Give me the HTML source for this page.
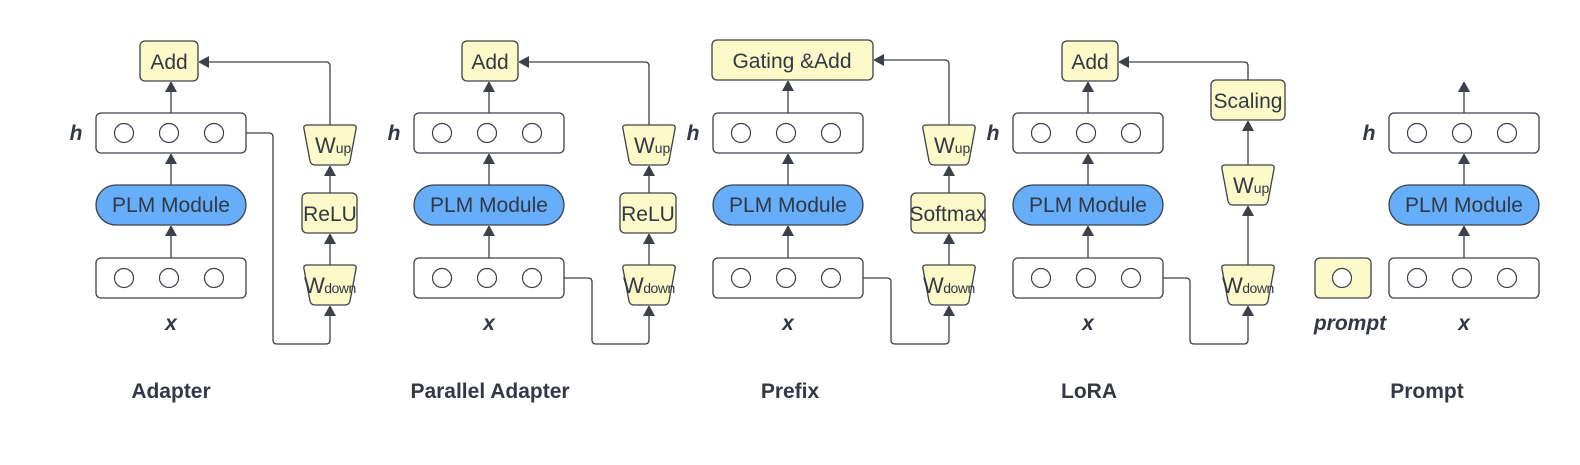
<!DOCTYPE html>
<html><head><meta charset="utf-8"><style>
html,body{margin:0;padding:0;background:#fff;}
svg{display:block;}
text{font-family:"Liberation Sans",Arial,sans-serif;fill:#333844;}
.b{fill:#fff;stroke:#3c4048;stroke-width:1.3;}
.y{fill:#fcfac8;stroke:#3c4048;stroke-width:1.3;}
.p{fill:#66aefa;stroke:#3c4048;stroke-width:1.3;}
.c{fill:#fff;stroke:#3c4048;stroke-width:1.2;}
.l{fill:none;stroke:#3c4048;stroke-width:1.3;}
.t{font-size:21px;text-anchor:middle;}
.ti{font-size:21px;font-weight:bold;text-anchor:middle;}
.it{font-size:21px;font-weight:bold;font-style:italic;text-anchor:middle;}
</style></head><body>
<svg width="1580" height="465" viewBox="0 0 1580 465" xmlns="http://www.w3.org/2000/svg">
<defs>
<marker id="a" markerWidth="10" markerHeight="12" refX="10" refY="6" orient="auto" markerUnits="userSpaceOnUse">
<path d="M0,0 L11,6 L0,12 z" fill="#3c4048"/></marker>
<g id="core">
<rect class="b" x="96" y="113" width="150" height="40" rx="5"/>
<circle class="c" cx="124" cy="133" r="9.5"/><circle class="c" cx="169" cy="133" r="9.5"/><circle class="c" cx="214" cy="133" r="9.5"/>
<rect class="p" x="96" y="185" width="150" height="40" rx="20"/>
<text class="t" x="171" y="212">PLM Module</text>
<rect class="b" x="96" y="258" width="150" height="40" rx="5"/>
<circle class="c" cx="124" cy="278" r="9.5"/><circle class="c" cx="169" cy="278" r="9.5"/><circle class="c" cx="214" cy="278" r="9.5"/>
<line class="l" x1="171" y1="258" x2="171" y2="226" marker-end="url(#a)"/>
<line class="l" x1="171" y1="185" x2="171" y2="154" marker-end="url(#a)"/>
<text class="it" x="76" y="140">h</text>
<text class="it" x="171" y="330">x</text>
</g>
<g id="wup">
<path class="y" d="M-23,0 L23,0 Q27,0 26,4 L20,36 Q19,40 15,40 L-15,40 Q-19,40 -20,36 L-26,4 Q-27,0 -23,0 Z"/>
<text x="-15" y="28" font-size="22px">W<tspan font-size="14px">up</tspan></text>
</g>
<g id="wdown">
<path class="y" d="M-23,0 L23,0 Q27,0 26,4 L20,36 Q19,40 15,40 L-15,40 Q-19,40 -20,36 L-26,4 Q-27,0 -23,0 Z"/>
<text x="-26" y="28" font-size="22px" letter-spacing="-0.5">W<tspan font-size="14px">down</tspan></text>
</g>
</defs>

<!-- Adapter -->
<use href="#core"/>
<rect class="y" x="140" y="41" width="58" height="40" rx="5"/>
<text class="t" x="169" y="69">Add</text>
<line class="l" x1="171" y1="113" x2="171" y2="82" marker-end="url(#a)"/>
<use href="#wup" x="330" y="125"/>
<rect class="y" x="302" y="193" width="55" height="40" rx="5"/>
<text class="t" x="330" y="221">ReLU</text>
<use href="#wdown" x="330" y="265"/>
<line class="l" x1="330" y1="265" x2="330" y2="234" marker-end="url(#a)"/>
<line class="l" x1="330" y1="193" x2="330" y2="166" marker-end="url(#a)"/>
<path class="l" d="M330,125 L330,66 Q330,62 326,62 L199,62" marker-end="url(#a)"/>
<path class="l" d="M246,133 L269,133 Q273,133 273,137 L273,340 Q273,344 277,344 L326,344 Q330,344 330,340 L330,306" marker-end="url(#a)"/>
<text class="ti" x="171" y="398">Adapter</text>

<!-- Parallel Adapter -->
<use href="#core" x="318"/>
<rect class="y" x="462" y="41" width="56" height="40" rx="5"/>
<text class="t" x="490" y="69">Add</text>
<line class="l" x1="489" y1="113" x2="489" y2="82" marker-end="url(#a)"/>
<use href="#wup" x="649" y="125"/>
<rect class="y" x="620" y="193" width="56" height="40" rx="5"/>
<text class="t" x="648" y="221">ReLU</text>
<use href="#wdown" x="649" y="265"/>
<line class="l" x1="649" y1="265" x2="649" y2="234" marker-end="url(#a)"/>
<line class="l" x1="649" y1="193" x2="649" y2="166" marker-end="url(#a)"/>
<path class="l" d="M649,125 L649,66 Q649,62 645,62 L519,62" marker-end="url(#a)"/>
<path class="l" d="M564,278 L588,278 Q592,278 592,282 L592,340 Q592,344 596,344 L645,344 Q649,344 649,340 L649,306" marker-end="url(#a)"/>
<text class="ti" x="490" y="398">Parallel Adapter</text>

<!-- Prefix -->
<use href="#core" x="617"/>
<rect class="y" x="712" y="40" width="161" height="40" rx="5"/>
<text class="t" x="792" y="68">Gating &amp;Add</text>
<line class="l" x1="788" y1="113" x2="788" y2="81" marker-end="url(#a)"/>
<use href="#wup" x="949" y="125"/>
<rect class="y" x="911" y="193" width="74" height="40" rx="5"/>
<text class="t" x="948" y="221">Softmax</text>
<use href="#wdown" x="949" y="265"/>
<line class="l" x1="949" y1="265" x2="949" y2="234" marker-end="url(#a)"/>
<line class="l" x1="949" y1="193" x2="949" y2="166" marker-end="url(#a)"/>
<path class="l" d="M949,125 L949,64 Q949,60 945,60 L874,60" marker-end="url(#a)"/>
<path class="l" d="M863,278 L887,278 Q891,278 891,282 L891,340 Q891,344 895,344 L945,344 Q949,344 949,340 L949,306" marker-end="url(#a)"/>
<text class="ti" x="790" y="398">Prefix</text>

<!-- LoRA -->
<use href="#core" x="917"/>
<rect class="y" x="1062" y="41" width="56" height="40" rx="5"/>
<text class="t" x="1090" y="69">Add</text>
<line class="l" x1="1088" y1="113" x2="1088" y2="82" marker-end="url(#a)"/>
<rect class="y" x="1211" y="80" width="74" height="40" rx="5"/>
<text class="t" x="1248" y="108">Scaling</text>
<use href="#wup" x="1248" y="165"/>
<use href="#wdown" x="1248" y="265"/>
<line class="l" x1="1248" y1="265" x2="1248" y2="206" marker-end="url(#a)"/>
<line class="l" x1="1248" y1="165" x2="1248" y2="121" marker-end="url(#a)"/>
<path class="l" d="M1248,80 L1248,66 Q1248,62 1244,62 L1119,62" marker-end="url(#a)"/>
<path class="l" d="M1163,278 L1186,278 Q1190,278 1190,282 L1190,340 Q1190,344 1194,344 L1244,344 Q1248,344 1248,340 L1248,306" marker-end="url(#a)"/>
<text class="ti" x="1089" y="398">LoRA</text>

<!-- Prompt -->
<use href="#core" x="1293"/>
<line class="l" x1="1464" y1="113" x2="1464" y2="82" marker-end="url(#a)"/>
<rect class="y" x="1315" y="258" width="56" height="40" rx="5"/>
<circle class="c" cx="1342" cy="278" r="9.5"/>
<text class="it" x="1350" y="330">prompt</text>
<text class="ti" x="1427" y="398">Prompt</text>
</svg>
</body></html>
